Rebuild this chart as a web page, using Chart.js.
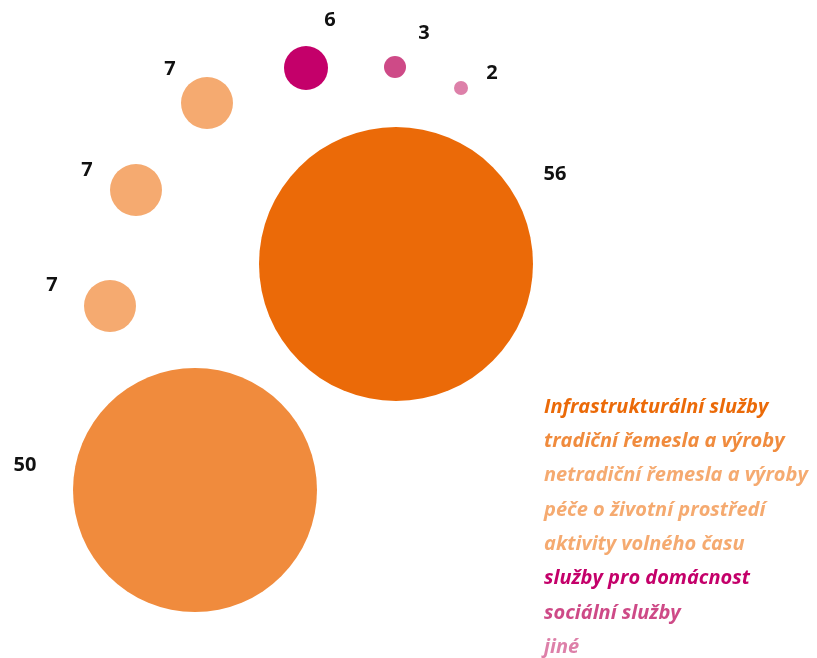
<!DOCTYPE html>
<html>
<head>
<meta charset="utf-8">
<script src="https://cdn.jsdelivr.net/npm/chart.js@4.4.0/dist/chart.umd.min.js"></script>
<style>
  body { margin: 0; background: #fff; }
  canvas { display: block; }
</style>
</head>
<body>
<canvas id="myChart" width="817" height="658"></canvas>
<script>
// kategorie a počty
const categories = [
  'Infrastrukturální služby',
  'tradiční řemesla a výroby',
  'netradiční řemesla a výroby',
  'péče o životní prostředí',
  'aktivity volného času',
  'služby pro domácnost',
  'sociální služby',
  'jiné'
]
const counts = [56, 50, 7, 7, 7, 6, 3, 2]

// rozmístění bublin (osa x 0-817, osa y 0-658 shora dolů)
const bubbleX = [396, 195, 110, 136, 207, 306, 395, 461]
const bubbleY = [264, 490, 306, 190, 103, 68, 67, 88]
const bubbleR = [137, 122, 26, 26, 26, 22, 11, 7]

const colors = ['#EB6A08', '#F08B3D', '#F5AA70', '#F5AA70', '#F5AA70', '#C4006A', '#CE4A87', '#DD80A9']

// posun popisku od středu bubliny
const labelOffset = [[159, -90], [-170, -25], [-58, -21], [-49, -20], [-37, -34], [24, -48], [29, -34], [31, -15]]

const datasets = categories.map((c, i) => ({
  label: c,
  data: [{ x: bubbleX[i], y: bubbleY[i], r: bubbleR[i] }],
  backgroundColor: colors[i],
  borderWidth: 0,
  hoverBorderWidth: 0,
  hoverRadius: 0,
  clip: false
}))

// popisky hodnot a legenda vpravo dole
const textPlugin = {
  id: 'texts',
  afterDatasetsDraw(chart) {
    const ctx = chart.ctx
    ctx.save()
    ctx.textAlign = 'center'
    ctx.textBaseline = 'middle'
    ctx.fillStyle = '#111'
    ctx.font = 'bold 20px "Open Sans", sans-serif'
    chart.data.datasets.forEach((ds, i) => {
      const el = chart.getDatasetMeta(i).data[0]
      ctx.fillText(String(counts[i]), el.x + labelOffset[i][0], el.y + labelOffset[i][1])
    })

    ctx.textAlign = 'left'
    ctx.font = 'italic bold 20px "Open Sans", sans-serif'
    categories.forEach((c, i) => {
      ctx.fillStyle = colors[i]
      ctx.fillText(c, 544, 407 + i * 34.3)
    })
    ctx.restore()
  }
}

const config = {
  type: 'bubble',
  data: { datasets: datasets },
  options: {
    responsive: false,
    animation: false,
    layout: { padding: 0, autoPadding: false },
    plugins: { legend: { display: false }, tooltip: { enabled: false } },
    scales: {
      x: { display: false, min: 0, max: 817 },
      y: { display: false, min: 0, max: 658, reverse: true }
    }
  },
  plugins: [textPlugin]
}
const myChart = new Chart(document.getElementById('myChart'), config)
</script>
</body>
</html>
